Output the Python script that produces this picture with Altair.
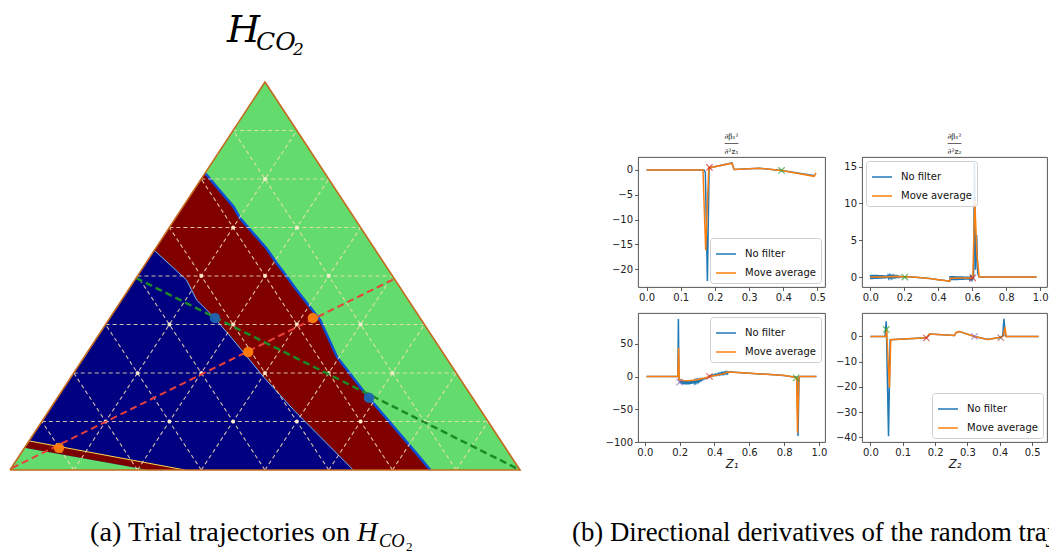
import altair as alt
import pandas as pd

# ---------------- (a) ternary map of H_CO2 (x along base 0..1, y = height 0..1) ----------------
tri_x = [0.0, 0.5, 1.0]
tri_y = [0.0, 1.0, 0.0]

# green / dark-red boundary (left edge -> base)
gr_x = [0.382, 0.386, 0.405, 0.438, 0.451, 0.477, 0.503, 0.523, 0.543, 0.562, 0.608, 0.641, 0.699, 0.752, 0.797, 0.824]
gr_y = [0.764, 0.760, 0.730, 0.679, 0.649, 0.610, 0.571, 0.533, 0.498, 0.464, 0.387, 0.292, 0.193, 0.112, 0.043, 0.0]
# dark-red / navy boundary (left edge -> base)
rb_x = [0.283, 0.346, 0.366, 0.399, 0.438, 0.497, 0.556, 0.608, 0.673]
rb_y = [0.566, 0.490, 0.438, 0.395, 0.335, 0.240, 0.155, 0.086, 0.0]
# thin dark-red stripe and green patch at the bottom-left corner
stripe_x = [0.028, 0.037, 0.343, 0.271]
stripe_y = [0.057, 0.075, 0.0, 0.0]
patch_x = [0.0, 0.028, 0.271]
patch_y = [0.0, 0.057, 0.0]

grid_f = [0.125, 0.25, 0.375, 0.5, 0.625, 0.75, 0.875]

traj_red_x = [0.004, 0.753]
traj_red_y = [0.005, 0.492]
dots_red_x = [0.096, 0.467, 0.594]
dots_red_y = [0.057, 0.304, 0.392]
traj_green_x = [0.247, 1.0]
traj_green_y = [0.495, 0.0]
dots_green_x = [0.402, 0.704]
dots_green_y = [0.392, 0.186]

# ---------------- (b) directional derivatives ----------------
SERIES = ["No filter", "Move average"]

# top-left: d beta / d z1
tl_b_x = [0.0, 0.168, 0.172, 0.178, 0.183, 0.25, 0.256, 0.33, 0.395, 0.493]
tl_b_y = [0.0, 0.0, -0.5, -22.4, 0.4, 1.4, 0.1, 0.35, -0.1, -1.2]
tl_o_x = [0.0, 0.165, 0.173, 0.182, 0.25, 0.256, 0.33, 0.395, 0.49, 0.496]
tl_o_y = [0.0, 0.0, -16.2, 0.4, 1.35, 0.1, 0.35, -0.1, -1.3, -0.6]
tl_m_x = [0.184, 0.395]
tl_m_y = [0.5, -0.1]
tl_m_c = ["#d62728", "#2ca02c"]

# top-right: d beta / d z2
tr_b_x = [0.000, 0.004, 0.008, 0.012, 0.016, 0.020, 0.024, 0.028, 0.032, 0.036, 0.040, 0.044, 0.048,
          0.052, 0.056, 0.060, 0.064, 0.068, 0.072, 0.076, 0.080, 0.084, 0.088, 0.092, 0.096, 0.100,
          0.104, 0.108, 0.112, 0.116, 0.120, 0.124, 0.128, 0.132, 0.136, 0.140, 0.144, 0.148, 0.152,
          0.156, 0.160, 0.164, 0.168, 0.172, 0.176, 0.180, 0.184, 0.188, 0.192, 0.196, 0.200,
          0.25, 0.30, 0.35, 0.40, 0.44, 0.468,
          0.470, 0.474, 0.478, 0.482, 0.486, 0.490, 0.494, 0.498, 0.502, 0.506, 0.510, 0.514, 0.518,
          0.522, 0.526, 0.530, 0.534, 0.538, 0.542, 0.546, 0.550, 0.554, 0.558, 0.562, 0.566, 0.570,
          0.574, 0.578, 0.582, 0.586, 0.590, 0.594, 0.598, 0.602, 0.606,
          0.608, 0.613, 0.619, 0.626, 0.632, 0.641, 0.978]
tr_b_y = [0.30, -0.28, 0.30, -0.27, 0.29, -0.26, 0.29, -0.25, 0.28, -0.24, 0.28, -0.23, 0.27,
          -0.22, 0.26, -0.21, 0.26, -0.20, 0.25, -0.19, 0.24, -0.18, 0.23, -0.16, 0.22, -0.15,
          0.21, -0.14, 0.20, -0.12, 0.19, -0.11, 0.18, -0.09, 0.17, -0.08, 0.16, -0.06, 0.14,
          -0.05, 0.13, -0.03, 0.11, -0.02, 0.10, 0.0, 0.08, 0.01, 0.07, 0.03, 0.05,
          0.0, -0.08, -0.2, -0.35, -0.48, -0.55,
          0.12, -0.42, 0.12, -0.42, 0.11, -0.41, 0.11, -0.41, 0.10, -0.40, 0.10, -0.40, 0.09,
          -0.39, 0.09, -0.38, 0.08, -0.38, 0.08, -0.37, 0.07, -0.36, 0.06, -0.35, 0.06, -0.34,
          0.05, -0.33, 0.04, -0.32, 0.03, -0.31, 0.03, -0.30, 0.02,
          -0.2, 15.5, 1.0, 5.7, 0.5, 0.0, 0.0]
tr_o_x = [0.0, 0.05, 0.10, 0.15, 0.20, 0.25, 0.30, 0.35, 0.40, 0.44, 0.468, 0.472, 0.54, 0.603,
          0.615, 0.627, 0.641, 0.978]
tr_o_y = [0.0, 0.02, 0.05, 0.08, 0.05, 0.0, -0.08, -0.2, -0.35, -0.48, -0.55, -0.15, -0.13, -0.12,
          10.4, 3.2, 0.0, 0.0]
tr_m_x = [0.203, 0.603]
tr_m_y = [0.0, -0.1]
tr_m_c = ["#2ca02c", "#d62728"]

# bottom-left: along Z1
bl_b_x = [0.01, 0.19, 0.193, 0.196,
          0.200, 0.204, 0.208, 0.212, 0.216, 0.220, 0.224, 0.228, 0.232, 0.236, 0.240, 0.244, 0.248,
          0.252, 0.256, 0.260, 0.264, 0.268, 0.272, 0.276, 0.280, 0.284, 0.288, 0.292, 0.296, 0.300,
          0.304, 0.308, 0.312, 0.316, 0.320, 0.324, 0.328, 0.332, 0.336, 0.340, 0.344, 0.348, 0.352,
          0.356, 0.360, 0.364, 0.368,
          0.372, 0.376, 0.380, 0.384, 0.388, 0.392, 0.396, 0.400, 0.404, 0.408, 0.412, 0.416, 0.420,
          0.424, 0.428, 0.432, 0.436, 0.440, 0.444, 0.448, 0.452, 0.456, 0.460, 0.464, 0.468, 0.472,
          0.476,
          0.48, 0.6, 0.7, 0.8, 0.866, 0.874, 0.880, 0.886, 0.89, 0.986]
bl_b_y = [0.0, 0.0, 88.0, -4.0,
          -4, -10, -5, -11, -5.5, -11.5, -6, -12, -6, -12, -6.3, -12, -6.5, -12, -6.5, -11.5, -6.5,
          -11, -6.3, -10.5, -6, -10, -5.8, -9.5, -5.5, -9, -5, -8, -4.5, -7, -4, -6, -3.5, -5, -3,
          -4, -2.5, -3, -2, -2, -1.5, -1.2, -1,
          0.3, 1.5, 0.6, 2, 1, 2.5, 1.3, 3, 1.6, 3.5, 2, 4, 2.3, 4.5, 2.6, 5, 3, 5.5, 3.3, 6, 3.6,
          6.3, 4, 6.6, 4.3, 7, 4.6,
          7.2, 5.0, 3.3, 1.5, -1.0, -1.0, -91.0, -1.0, 0.0, 0.0]
bl_o_x = [0.01, 0.19, 0.194, 0.198, 0.22, 0.25, 0.30, 0.34, 0.372, 0.41, 0.45, 0.478, 0.6, 0.7,
          0.8, 0.866, 0.872, 0.877, 0.885, 0.89, 0.986]
bl_o_y = [0.0, 0.0, 44.0, -5.0, -6.0, -6.5, -5.0, -2.5, 0.0, 2.0, 4.0, 7.0, 5.0, 3.3,
          1.5, -1.0, -2.0, -86.0, -1.0, 0.0, 0.0]
bl_m_x = [0.200, 0.372, 0.869]
bl_m_y = [-8.6, 0.0, -2.0]
bl_m_c = ["#9467bd", "#d62728", "#2ca02c"]

# bottom-right: along Z2
br_b_x = [0.0, 0.045, 0.049, 0.056, 0.061, 0.173, 0.183, 0.26, 0.265, 0.275, 0.322, 0.362, 0.403,
          0.409, 0.413, 0.417, 0.42, 0.52]
br_b_y = [0.0, 0.0, 6.0, -39.5, -1.3, -0.5, 1.0, 0.4, 1.5, 2.0, 0.0, -1.2, -0.3,
          0.2, 7.0, 0.3, 0.0, 0.0]
br_o_x = [0.0, 0.045, 0.048, 0.050, 0.059, 0.063, 0.173, 0.183, 0.26, 0.265, 0.275, 0.322, 0.362,
          0.403, 0.411, 0.416, 0.42, 0.52]
br_o_y = [0.0, 0.0, 0.0, 3.0, -20.3, -1.3, -0.5, 1.0, 0.4, 1.5, 2.0, 0.0, -1.2,
          -0.3, 0.3, 3.7, 0.0, 0.0]
br_m_x = [0.049, 0.173, 0.322, 0.403]
br_m_y = [2.8, -0.6, 0.0, -0.5]
br_m_c = ["#2ca02c", "#d62728", "#9467bd", "#8c564b"]

# ======================================================================================
BLUE, ORANGE = "#1f77b4", "#ff7f0e"
XPATH = "M-1,-1L1,1M-1,1L1,-1"
ONE = pd.DataFrame({"a": [0]})
FULL_W, FULL_H = 1049, 555

LXS = alt.Scale(domain=[-0.0196, 2.0373], nice=False, zero=False)
LYS = alt.Scale(domain=[-0.2191, 1.2113], nice=False, zero=False)


def pts(xs, ys, grp=0):
    return pd.DataFrame({"x": xs, "y": ys, "i": list(range(len(xs))), "g": [grp] * len(xs)})


def lenc():
    return dict(x=alt.X("x:Q", scale=LXS, axis=None), y=alt.Y("y:Q", scale=LYS, axis=None))


def poly(xs, ys, col):
    return alt.Chart(pts(xs, ys)).mark_line(filled=True, color=col, interpolate="linear-closed").encode(
        order="i:Q", **lenc())


def path(df, col, width, dash=None, opacity=1.0):
    kw = dict(color=col, strokeWidth=width, opacity=opacity)
    if dash:
        kw["strokeDash"] = dash
    return alt.Chart(df).mark_line(**kw).encode(order="i:Q", detail="g:N", **lenc())


green_bg = poly(tri_x, tri_y, "#63dc6d")
navy = poly([0.0] + gr_x, [0.0] + gr_y, "#000080")
maroon = poly(gr_x + rb_x[::-1], gr_y + rb_y[::-1], "#800000")
stripe = poly(stripe_x, stripe_y, "#7d0000")
patch = poly(patch_x, patch_y, "#63dc6d")

gr_line = path(pts(gr_x, gr_y), "#0b4fd6", 2.6)
rb_line = path(pts(rb_x, rb_y), "#6cb8ff", 1.0)
stripe_top = path(pts(stripe_x[1:3], stripe_y[1:3]), "#ffd84a", 1.0)

# triangular grid built from the grid fractions
gx, gy, gg, gi = [], [], [], []
k = 0
for f in grid_f:
    for (x0, y0, x1, y1) in [(f / 2, f, 1 - f / 2, f), (f, 0.0, (1 + f) / 2, 1 - f), (f, 0.0, f / 2, f)]:
        gx += [x0, x1]; gy += [y0, y1]; gg += [k, k]; gi += [0, 1]
        k += 1
grid_df = pd.DataFrame({"x": gx, "y": gy, "g": gg, "i": gi})
grid = path(grid_df, "#f3dfb6", 1.1, dash=[4, 3], opacity=0.85)

dx, dy = [], []
for f in grid_f:
    for g in grid_f:
        if f / 2 + g < 1 - f / 2 - 1e-9:
            dx.append(f / 2 + g); dy.append(f)
grid_dots = alt.Chart(pd.DataFrame({"x": dx, "y": dy})).mark_circle(
    size=16, color="#fff2d2", opacity=0.9).encode(**lenc())

red_traj = path(pts(traj_red_x, traj_red_y), "#e8403a", 2, dash=[7, 4])
green_traj = path(pts(traj_green_x, traj_green_y), "#1c8a26", 2.5, dash=[7, 4])
red_dots = alt.Chart(pd.DataFrame({"x": dots_red_x, "y": dots_red_y})).mark_circle(
    size=110, color="#ff7f0e", opacity=0.95).encode(**lenc())
green_dots = alt.Chart(pd.DataFrame({"x": dots_green_x, "y": dots_green_y})).mark_circle(
    size=110, color="#1f64b0", opacity=0.95).encode(**lenc())
outline = path(pts(tri_x + [tri_x[0]], tri_y + [tri_y[0]]), "#c46a1e", 1.6)


def txt(t, x, y, size, font="DejaVu Serif", style="normal"):
    return alt.Chart(ONE).mark_text(text=t, font=font, fontStyle=style, fontSize=size, align="left",
                                    baseline="alphabetic", color="black", clip=True).encode(
        x=alt.value(x), y=alt.value(y))


texts = [
    txt("H", 227, 42, 38, style="italic"),
    txt("CO", 256, 50, 25, style="italic"),
    txt("2", 293, 55, 17, style="italic"),
    txt("(a) Trial trajectories on", 90, 541, 28.3, font="Liberation Serif"),
    txt("H", 357, 541, 28.3, font="Liberation Serif", style="italic"),
    txt("CO", 379, 547, 18.5, font="Liberation Serif", style="italic"),
    txt("2", 406, 551, 13, font="Liberation Serif"),
    txt("(b) Directional derivatives of the random traj", 572, 541, 26.8, font="Liberation Serif"),
]

# full-canvas layer: the ternary map and both captions
left = alt.layer(green_bg, navy, maroon, stripe, patch, gr_line, rb_line, stripe_top, grid, grid_dots,
                 red_traj, green_traj, red_dots, green_dots, outline, *texts).properties(
    width=FULL_W, height=FULL_H, view=alt.ViewBackground(stroke=None))


# ---------------- right panels ----------------
def sdf(xs, ys, name):
    return pd.DataFrame({"x": xs, "y": ys, "i": list(range(len(xs))), "s": [name] * len(xs)})


def panel(bx, by, ox, oy, mx, my, mc, xdom, ydom, xt, yt, orient, w, h, title=None, xtitle=None):
    xs = alt.Scale(domain=xdom, nice=False, zero=False)
    ys = alt.Scale(domain=ydom, nice=False, zero=False)
    xkw = dict(values=xt, format=".1f")
    if xtitle:
        xkw.update(title=xtitle, titleFontStyle="italic", titlePadding=1, titleFontSize=11.5,
                   titleFont="DejaVu Sans", titleFontWeight="normal", titleColor="#222")
    else:
        xkw.update(title=None)
    X = alt.X("x:Q", scale=xs, axis=alt.Axis(**xkw))
    Y = alt.Y("y:Q", scale=ys, axis=alt.Axis(values=yt, format="d", title=None))
    cs = alt.Scale(domain=SERIES, range=[BLUE, ORANGE])
    leg = alt.Legend(title=None, orient=orient, offset=4, padding=5, labelFontSize=10,
                     labelFont="DejaVu Sans", labelColor="#111", symbolType="stroke", symbolSize=400,
                     symbolStrokeWidth=1.5, strokeColor="#d0d0d0", fillColor="rgba(255,255,255,0.85)",
                     cornerRadius=3, rowPadding=3, labelOffset=8)
    lb = alt.Chart(sdf(bx, by, SERIES[0])).mark_line(strokeWidth=1.5).encode(
        x=X, y=Y, order="i:Q", color=alt.Color("s:N", scale=cs, legend=leg))
    lo = alt.Chart(sdf(ox, oy, SERIES[1])).mark_line(strokeWidth=1.5).encode(
        x=X, y=Y, order="i:Q", color=alt.Color("s:N", scale=cs, legend=leg))
    mk = alt.Chart(pd.DataFrame({"x": mx, "y": my, "c": mc})).mark_point(
        shape=XPATH, filled=False, size=40, strokeWidth=1.2).encode(
        x=X, y=Y, stroke=alt.Stroke("c:N", scale=None))
    ch = alt.layer(lb, lo, mk).properties(width=w, height=h)
    if title:
        ch = ch.properties(title=alt.TitleParams(text=title, fontSize=7.5, font="DejaVu Serif",
                                                 fontWeight="normal", lineHeight=7.5, offset=2,
                                                 color="#111", anchor="middle"))
    return ch


tl = panel(tl_b_x, tl_b_y, tl_o_x, tl_o_y, tl_m_x, tl_m_y, tl_m_c, [-0.025, 0.522], [-23.6, 2.6],
           [0.0, 0.1, 0.2, 0.3, 0.4, 0.5], [-20, -15, -10, -5, 0], "bottom-right", 187, 130,
           title=["∂β₁²", "───", "∂²z₁"])
tr = panel(tr_b_x, tr_b_y, tr_o_x, tr_o_y, tr_m_x, tr_m_y, tr_m_c, [-0.049, 1.04], [-1.35, 16.3],
           [0.0, 0.2, 0.4, 0.6, 0.8, 1.0], [0, 5, 10, 15], "top-left", 185, 130,
           title=["∂β₁²", "───", "∂²z₂"])
bl = panel(bl_b_x, bl_b_y, bl_o_x, bl_o_y, bl_m_x, bl_m_y, bl_m_c, [-0.039, 1.035], [-100, 97],
           [0.0, 0.2, 0.4, 0.6, 0.8, 1.0], [-100, -50, 0, 50], "top-right", 187, 129, xtitle="Z₁")
br = panel(br_b_x, br_b_y, br_o_x, br_o_y, br_m_x, br_m_y, br_m_c, [-0.026, 0.546], [-41.8, 9.3],
           [0.0, 0.1, 0.2, 0.3, 0.4, 0.5], [-40, -30, -20, -10, 0], "bottom-right", 185, 129,
           xtitle="Z₂")


def spacer(w, h):
    # invisible filler that only reserves empty room in the panel grid
    return alt.Chart(ONE).mark_rule(opacity=0).encode(
        x=alt.value(5), y=alt.value(5), y2=alt.value(10)).properties(
        width=w, height=h, view=alt.ViewBackground(stroke=None))


RES = dict(x="independent", y="independent", color="independent")
panels = alt.concat(spacer(601, 131), spacer(187, 131), spacer(185, 131),
                    spacer(601, 130), tl, tr,
                    spacer(601, 129), bl, br,
                    columns=3, spacing={"row": 26, "column": 37}, bounds="flush",
                    align="each").resolve_scale(**RES)

# the panel grid (a nested block, zero flush height) is overlaid by the full-canvas layer
chart = alt.vconcat(panels, left, spacing=0, bounds="flush").resolve_scale(**RES).properties(
    padding=0, background="white"
).configure_view(stroke="#444444", strokeWidth=0.9).configure_axis(
    labelFont="DejaVu Sans", labelFontSize=10, labelColor="#222222", tickColor="#333333",
    tickSize=3.5, tickWidth=0.8, domain=False, grid=False, labelPadding=2
)

chart.save("out.html", embed_options={"renderer": "svg", "actions": False})
